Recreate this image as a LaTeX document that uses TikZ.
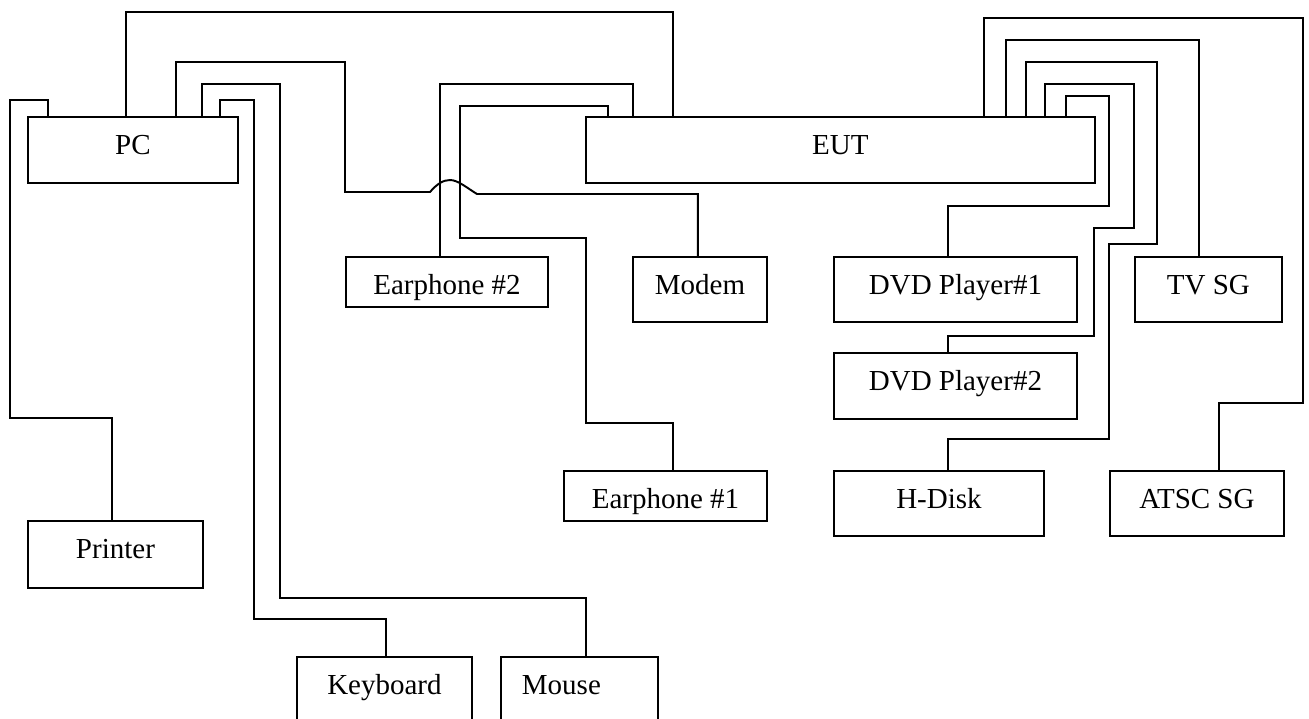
\documentclass[tikz,border=0pt]{standalone}
\usepackage{fontspec}
\setmainfont{Liberation Serif}

\begin{document}
\begin{tikzpicture}[
    x=0.02cm, y=-0.02cm,
    font=\fontsize{16.5}{19}\selectfont,
    unit/.style={draw, line width=1.1pt, inner sep=0pt, anchor=north west,
                 text height=0.76cm, text depth=0.54cm},
    short/.style={text depth=0.24cm},
    cable/.style={line width=1.1pt},
]
\clip (0,0) rectangle (1309,718);

% ---- PC and its peripherals ----
\node[unit, minimum width=4.2cm, text depth=0.56cm] (PC) at (27,116) {PC};
\node[unit, minimum width=3.5cm, text depth=0.58cm] (Printer) at (27,520) {Printer};
\node[unit, minimum width=3.5cm, text depth=0.92cm] (Keyboard) at (296,656) {Keyboard};
\node[unit, minimum width=3.14cm, text depth=0.92cm, text width=2.3cm,
      align=left, inner xsep=0.42cm] (Mouse) at (500,656) {Mouse};

% ---- EUT and its peripherals ----
\node[unit, minimum width=10.18cm, text depth=0.56cm] (EUT) at (585,116) {EUT};
\node[unit, short, minimum width=4.04cm] (Ear2) at (345,256) {Earphone \#2};
\node[unit, minimum width=2.68cm] (Modem) at (632,256) {Modem};
\node[unit, short, minimum width=4.06cm] (Ear1) at (563,470) {Earphone \#1};
\node[unit, minimum width=4.86cm] (DVD1) at (833,256) {DVD Player\#1};
\node[unit, minimum width=4.86cm, text depth=0.56cm] (DVD2) at (833,352) {DVD Player\#2};
\node[unit, minimum width=2.94cm] (TVSG) at (1134,256) {TV SG};
\node[unit, minimum width=4.2cm] (HDisk) at (833,470) {H-Disk};
\node[unit, minimum width=3.48cm] (ATSC) at (1109,470) {ATSC SG};

% ---- cables from the PC ----
\draw[cable] ([xshift=0.42cm]PC.north west) |- (10,100) |- (112,418)
    -- (Printer.north -| 112,0);
\draw[cable] ([xshift=1.98cm]PC.north west) |- (673,12) -- (EUT.north -| 673,0);
\draw[cable] ([xshift=2.98cm]PC.north west) |- (345,62) |- (430,192)
    .. controls (437,184) and (443,180) .. (450,180)
    .. controls (458,180) and (467,188) .. (477,194) -| ([xshift=-0.04cm]Modem.north);
\draw[cable] ([xshift=3.5cm]PC.north west) |- (280,84) |- (586,598)
    -- (Mouse.north -| 586,0);
\draw[cable] ([xshift=-0.38cm]PC.north east) |- (254,100) |- (386,619)
    -- (Keyboard.north -| 386,0);

% ---- cables from the EUT ----
\draw[cable] ([xshift=0.96cm]EUT.north west) |- (440,84) -- (Ear2.north -| 440,0);
\draw[cable] ([xshift=0.46cm]EUT.north west) |- (460,106) |- (586,238) |- (673,423)
    -- (Ear1.north -| 673,0);
\draw[cable] ([xshift=-2.24cm]EUT.north east) |- (1303,18) |- (1219,403)
    -- (ATSC.north -| 1219,0);
\draw[cable] ([xshift=-1.8cm]EUT.north east) |- (1199,40) -- (TVSG.north -| 1199,0);
\draw[cable] ([xshift=-1.4cm]EUT.north east) |- (1157,62) |- (1109,244) |- (948,439)
    -- (HDisk.north -| 948,0);
\draw[cable] ([xshift=-1.02cm]EUT.north east) |- (1134,84) |- (1094,228) |- (948,336)
    -- (DVD2.north -| 948,0);
\draw[cable] ([xshift=-0.6cm]EUT.north east) |- (1109,96) |- (948,206)
    -- (DVD1.north -| 948,0);
\end{tikzpicture}
\end{document}
